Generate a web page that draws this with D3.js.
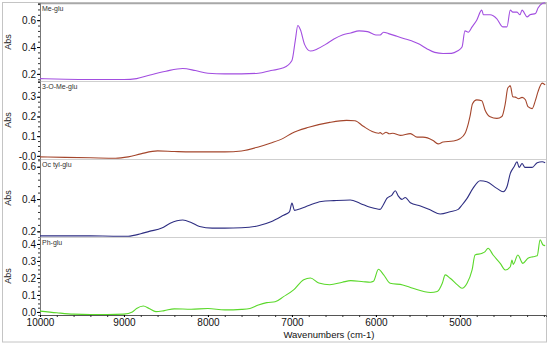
<!DOCTYPE html>
<html>
<head>
<meta charset="utf-8">
<script src="https://cdn.jsdelivr.net/npm/d3@7"></script>
<style>
  body { margin: 0; background: #fff; }
  text { font-family: 'Liberation Sans', Arial, sans-serif; }
</style>
</head>
<body>
<svg id="viz"></svg>
<script>
// wavenumber (cm-1), absorbance
const meGlu = [
  [10000, 0.165], [9700, 0.16], [9400, 0.158], [9000, 0.158], [8850, 0.165],
  [8700, 0.19], [8500, 0.22], [8300, 0.24], [8150, 0.225], [8000, 0.205],
  [7800, 0.2], [7600, 0.2], [7400, 0.205], [7250, 0.225], [7100, 0.245],
  [7000, 0.3], [6960, 0.45], [6930, 0.56], [6900, 0.53], [6850, 0.42],
  [6780, 0.37], [6700, 0.385], [6600, 0.42], [6500, 0.46], [6400, 0.49],
  [6300, 0.505], [6200, 0.52], [6100, 0.515], [6000, 0.49], [5950, 0.49],
  [5910, 0.51], [5850, 0.5], [5750, 0.48], [5650, 0.46], [5550, 0.44],
  [5480, 0.42], [5390, 0.386], [5300, 0.36], [5200, 0.352], [5100, 0.353],
  [5030, 0.37], [4975, 0.4], [4940, 0.52], [4900, 0.51], [4855, 0.55],
  [4800, 0.6], [4740, 0.675], [4720, 0.64], [4640, 0.64], [4560, 0.61],
  [4490, 0.55], [4440, 0.55], [4400, 0.675], [4370, 0.66], [4320, 0.66],
  [4285, 0.64], [4260, 0.675], [4200, 0.625], [4165, 0.64], [4100, 0.65],
  [4070, 0.69], [4020, 0.725], [3985, 0.73]
]

const oMeGlu = [
  [10000, -0.005], [9700, -0.008], [9400, -0.01], [9100, -0.012], [8950, -0.005],
  [8800, 0.01], [8600, 0.025], [8400, 0.022], [8200, 0.02], [8000, 0.02],
  [7800, 0.02], [7600, 0.025], [7400, 0.045], [7250, 0.065], [7100, 0.09],
  [7000, 0.115], [6800, 0.145], [6550, 0.17], [6350, 0.18], [6250, 0.178],
  [6150, 0.15], [6050, 0.125], [5970, 0.115], [5950, 0.118], [5920, 0.11],
  [5880, 0.12], [5840, 0.112], [5800, 0.115], [5710, 0.104], [5590, 0.113],
  [5510, 0.095], [5440, 0.095], [5320, 0.078], [5260, 0.061], [5200, 0.07],
  [5080, 0.075], [5000, 0.087], [4940, 0.113], [4900, 0.164], [4880, 0.2],
  [4850, 0.265], [4800, 0.284], [4740, 0.28], [4700, 0.232], [4640, 0.198],
  [4560, 0.19], [4500, 0.2], [4460, 0.265], [4430, 0.344], [4400, 0.355],
  [4370, 0.3], [4340, 0.298], [4300, 0.29], [4260, 0.297], [4220, 0.285],
  [4190, 0.25], [4140, 0.24], [4100, 0.283], [4070, 0.326], [4020, 0.369],
  [3985, 0.36]
]

const octylGlu = [
  [10000, 0.172], [9700, 0.172], [9400, 0.172], [9100, 0.17], [8950, 0.17],
  [8800, 0.185], [8700, 0.2], [8550, 0.22], [8450, 0.25], [8300, 0.27],
  [8200, 0.255], [8100, 0.23], [7950, 0.22], [7800, 0.22], [7600, 0.222],
  [7400, 0.235], [7250, 0.26], [7100, 0.3], [7030, 0.32], [7000, 0.375],
  [6970, 0.33], [6900, 0.34], [6800, 0.36], [6650, 0.385], [6500, 0.39],
  [6306, 0.394], [6187, 0.373], [6068, 0.349], [5950, 0.336], [5913, 0.363],
  [5870, 0.404], [5810, 0.425], [5770, 0.451], [5735, 0.42], [5690, 0.398],
  [5650, 0.41], [5590, 0.377], [5470, 0.357], [5350, 0.332], [5235, 0.307],
  [5116, 0.321], [5020, 0.336], [4975, 0.363], [4915, 0.404], [4845, 0.466],
  [4760, 0.513], [4680, 0.507], [4560, 0.466], [4485, 0.445], [4440, 0.476],
  [4400, 0.559], [4355, 0.6], [4320, 0.631], [4295, 0.596], [4260, 0.62],
  [4225, 0.596], [4140, 0.596], [4080, 0.625], [4020, 0.631], [3985, 0.625]
]

const phGlu = [
  [10000, 0.005], [9800, -0.005], [9600, -0.013], [9400, -0.015], [9200, -0.015],
  [9000, -0.013], [8900, 0.0], [8850, 0.02], [8770, 0.035], [8700, 0.02],
  [8620, 0.002], [8520, 0.008], [8400, 0.018], [8200, 0.016], [8000, 0.02],
  [7800, 0.012], [7600, 0.015], [7500, 0.02], [7400, 0.041], [7300, 0.055],
  [7200, 0.06], [7100, 0.09], [6980, 0.13], [6860, 0.19], [6780, 0.2],
  [6680, 0.17], [6550, 0.16], [6400, 0.175], [6300, 0.184], [6150, 0.178],
  [6068, 0.175], [6030, 0.18], [5970, 0.251], [5910, 0.22], [5830, 0.169],
  [5680, 0.159], [5560, 0.139], [5350, 0.114], [5270, 0.12], [5210, 0.169],
  [5175, 0.218], [5116, 0.198], [5030, 0.159], [4975, 0.139], [4915, 0.169],
  [4855, 0.247], [4820, 0.335], [4735, 0.345], [4700, 0.355], [4665, 0.375],
  [4605, 0.335], [4520, 0.286], [4460, 0.247], [4400, 0.266], [4380, 0.306],
  [4365, 0.28], [4310, 0.335], [4250, 0.286], [4190, 0.316], [4130, 0.325],
  [4080, 0.33], [4045, 0.424], [4010, 0.394], [3985, 0.39]
]

const seriesNames = ['Me-glu', '3-O-Me-glu', 'Oc tyl-glu', 'Ph-glu']
const seriesColors = ['#a24ee0', '#a4462c', '#2e2e82', '#5ad82a']
const yTicks = [[0.2, 0.4, 0.6], [0, 0.1, 0.2, 0.3], [0.2, 0.4, 0.6], [0, 0.1, 0.2, 0.3, 0.4]]
const yTickLabels = [['0.2', '0.4', '0.6'], ['-0.0', '0.1', '0.2', '0.3'], ['0.2', '0.4', '0.6'], ['0.0', '0.1', '0.2', '0.3', '0.4']]
const xTicks = [10000, 9000, 8000, 7000, 6000, 5000]

const width = 550
const height = 348

const left = 40
const right = 546
const panelTops = [3, 81, 159, 237]
const panelH = 78
const yDomains = [[0.147, 0.728], [-0.016, 0.38], [0.165, 0.648], [-0.018, 0.441]]
const minorStep = [0.04, 0.025, 0.04, 0.025]

const svg = d3.select('#viz').attr('width', width).attr('height', height)

// outer frame
svg
  .append('rect')
  .attr('x', 2.5)
  .attr('y', 2.5)
  .attr('width', 544)
  .attr('height', 339.5)
  .attr('fill', 'none')
  .attr('stroke', '#c4c4c4')

const x = d3.scaleLinear().domain([10000, 3975]).range([left, right])

const line = (y) =>
  d3
    .line()
    .x((d) => x(d[0]))
    .y((d) => y(d[1]))
    .curve(d3.curveMonotoneX)

const allData = [meGlu, oMeGlu, octylGlu, phGlu]

allData.forEach((data, i) => {
  const top = panelTops[i]
  const bottom = top + panelH
  const y = d3.scaleLinear().domain(yDomains[i]).range([bottom, top])
  const g = svg.append('g').attr('class', 'panel')

  // separator line on top of each panel
  g.append('line')
    .attr('x1', left)
    .attr('x2', right)
    .attr('y1', top + 0.5)
    .attr('y2', top + 0.5)
    .attr('stroke', i === 0 ? '#a8a8a8' : '#cfcfcf')
    .attr('stroke-width', i === 0 ? 1.5 : 1.2)

  // minor ticks
  const minors = d3.range(Math.ceil(yDomains[i][0] / minorStep[i]) * minorStep[i], yDomains[i][1], minorStep[i])
  g.append('g')
    .attr('transform', `translate(${left},0)`)
    .call(d3.axisLeft(y).tickValues(minors).tickSize(2).tickFormat(''))
    .call((a) => a.select('.domain').attr('stroke', '#777'))
    .call((a) => a.selectAll('.tick line').attr('stroke', '#333'))

  g.append('g')
    .attr('transform', `translate(${left},0)`)
    .call(
      d3
        .axisLeft(y)
        .tickValues(yTicks[i])
        .tickSize(3)
        .tickPadding(1)
        .tickFormat((d, k) => yTickLabels[i][k])
    )
    .call((a) => a.select('.domain').remove())
    .call((a) =>
      a
        .selectAll('text')
        .attr('font-size', 10)
        .attr('fill', '#111')
        .style('font-family', "'Liberation Sans', Arial, sans-serif")
    )

  // Abs label
  g.append('text')
    .attr('transform', `translate(11, ${top + panelH / 2}) rotate(-90)`)
    .attr('text-anchor', 'middle')
    .attr('font-size', 9)
    .attr('fill', '#222')
    .text('Abs')

  // series name
  g.append('text')
    .attr('x', left + 2)
    .attr('y', top + 7.5)
    .attr('font-size', 7)
    .attr('fill', '#333')
    .text(seriesNames[i])

  g.append('path')
    .datum(data)
    .attr('d', line(y))
    .attr('fill', 'none')
    .attr('stroke', seriesColors[i])
    .attr('stroke-width', 1.1)
})

// x axis
const axisY = panelTops[3] + panelH
svg
  .append('g')
  .attr('transform', `translate(0,${axisY})`)
  .call(d3.axisBottom(x).tickValues(d3.range(10000, 3975, -200)).tickSize(2).tickFormat(''))
  .call((a) => a.select('.domain').attr('stroke', '#555'))
  .call((a) => a.selectAll('.tick line').attr('stroke', '#333'))

svg
  .append('g')
  .attr('transform', `translate(0,${axisY})`)
  .call(d3.axisBottom(x).tickValues(xTicks).tickSize(2).tickPadding(2).tickFormat(d3.format('d')))
  .call((a) => a.select('.domain').remove())
  .call((a) =>
    a
      .selectAll('text')
      .attr('font-size', 10)
      .attr('fill', '#111')
      .style('font-family', "'Liberation Sans', Arial, sans-serif")
  )

svg
  .append('text')
  .attr('x', x(7000) + 37)
  .attr('y', 338)
  .attr('text-anchor', 'middle')
  .attr('font-size', 9.5)
  .attr('fill', '#111')
  .text('Wavenumbers (cm-1)')
</script>
</body>
</html>
